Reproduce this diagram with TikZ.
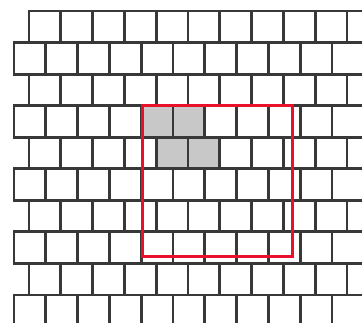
\documentclass[tikz,border=0pt]{standalone}
\definecolor{gridc}{HTML}{383838}
\definecolor{cellgray}{HTML}{C8C8C8}
\definecolor{boxred}{HTML}{E8102A}
\begin{document}
\begin{tikzpicture}[x=1pt,y=-1pt,
  cell/.style={draw=gridc,line width=2.9pt,fill=white},
  shaded/.style={cell,fill=cellgray},
  redbox/.style={draw=boxred,line width=3pt}]
\useasboundingbox (0,0) rectangle (362,323);
\clip (0,0) rectangle (362,323);
\fill[white] (0,0) rectangle (362,323);
\foreach \r in {0,...,9}{
  \pgfmathsetmacro\yt{11+\r*31.56}
  \pgfmathsetmacro\xs{mod(\r,2)==1 ? 14 : 29}
  \foreach \c in {0,...,11}{
    \pgfmathsetmacro\xl{\xs+\c*31.8}
    \draw[cell] (\xl,\yt) rectangle ++(31.8,31.56);
  }
}
\draw[shaded] (141.2,105.68) rectangle ++(31.8,31.56);
\draw[shaded] (173.0,105.68) rectangle ++(31.8,31.56);
\draw[shaded] (156.2,137.24) rectangle ++(31.8,31.56);
\draw[shaded] (188.0,137.24) rectangle ++(31.8,31.56);
\draw[redbox] (142,106) rectangle (292,256.5);
\end{tikzpicture}
\end{document}
